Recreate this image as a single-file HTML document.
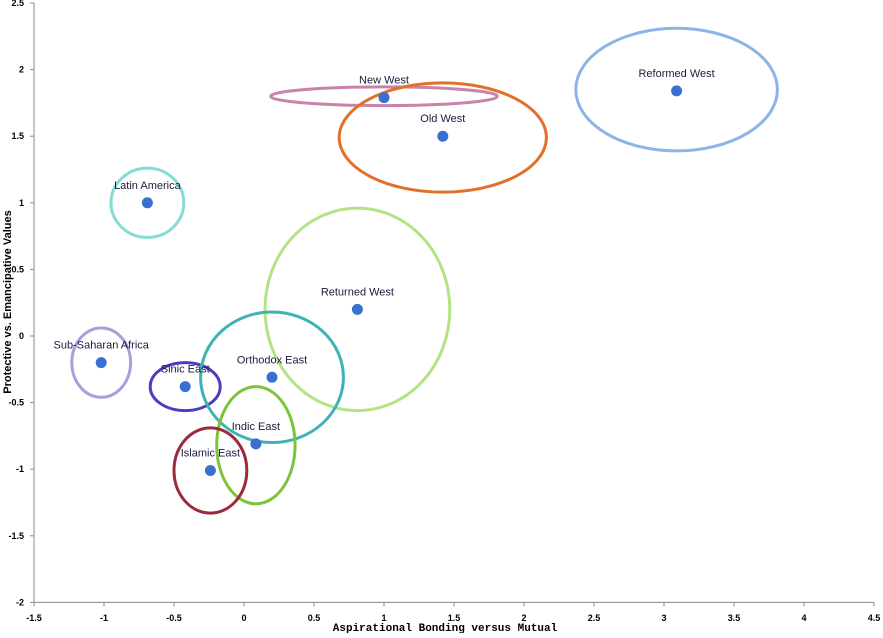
<!DOCTYPE html>
<html><head><meta charset="utf-8"><style>
body{margin:0;background:#fff;}
svg text{font-family:"Liberation Sans",sans-serif;}
</style></head><body>
<svg id="chart" width="883" height="633" xmlns="http://www.w3.org/2000/svg">
<g id="axes"></g>
<g id="ellipses"></g>
<g id="points"></g>
<text x="445" y="631" text-anchor="middle" font-size="11" font-weight="bold" style="font-family:'Liberation Mono',monospace">Aspirational Bonding versus Mutual</text>
<text transform="translate(11,302) rotate(-90)" text-anchor="middle" font-size="11" font-weight="bold">Protective vs. Emancipative Values</text>
</svg>
<script>
const names=["Reformed West","New West","Old West","Latin America","Returned West","Sub-Saharan Africa","Sinic East","Orthodox East","Indic East","Islamic East"];
const xs=[3.09,1.0,1.42,-0.69,0.81,-1.02,-0.42,0.2,0.085,-0.24];
const ys=[1.84,1.79,1.5,1.0,0.2,-0.2,-0.38,-0.31,-0.81,-1.01];
const ecx=[3.09,1.0,1.42,-0.69,0.81,-1.02,-0.42,0.2,0.085,-0.24];
const ecy=[1.85,1.8,1.49,1.0,0.2,-0.2,-0.38,-0.31,-0.82,-1.01];
const erx=[0.72,0.81,0.74,0.26,0.66,0.21,0.25,0.51,0.28,0.26];
const ery=[0.46,0.07,0.41,0.26,0.76,0.26,0.18,0.49,0.44,0.32];
const colors=["#8db4e6","#c983a8","#e2702a","#86dcd4","#b3e383","#ab9edb","#4a3ec0","#3eb3b3","#7cc43a","#9b2a3c"];
const xTicks=[-1.5,-1,-0.5,0,0.5,1,1.5,2,2.5,3,3.5,4,4.5];
const yTicks=[-2,-1.5,-1,-0.5,0,0.5,1,1.5,2,2.5];
const X=v=>244+v*140, Y=v=>336-v*133.2;
const NS="http://www.w3.org/2000/svg";
function mk(t,a,p){const e=document.createElementNS(NS,t);for(const k in a)e.setAttribute(k,a[k]);p.appendChild(e);return e;}
const ax=document.getElementById('axes');
let l=mk('line',{x1:X(-1.5),y1:Y(-2),x2:X(4.5),y2:Y(-2),stroke:'#888','stroke-width':1},ax);


l=mk('line',{x1:X(-1.5),y1:Y(-2),x2:X(-1.5),y2:Y(2.5),stroke:'#888','stroke-width':1},ax);


xTicks.forEach(v=>{
 mk('line',{x1:X(v),y1:Y(-2),x2:X(v),y2:Y(-2)+4,stroke:'#888'},ax);
 const t=mk('text',{x:X(v),y:621,'text-anchor':'middle','font-size':9,'font-weight':'bold'},ax);
 t.textContent=v;
 
 
});
yTicks.forEach(v=>{
 mk('line',{x1:X(-1.5)-4,y1:Y(v),x2:X(-1.5),y2:Y(v),stroke:'#888'},ax);
 const t=mk('text',{x:24,y:Y(v)+3,'text-anchor':'end','font-size':9,'font-weight':'bold'},ax);
 t.textContent=v;
 
 
});
const eg=document.getElementById('ellipses'),pg=document.getElementById('points');
names.forEach((n,i)=>{
 const e=mk('ellipse',{cx:X(ecx[i]),cy:Y(ecy[i]),rx:erx[i]*140,ry:ery[i]*133.2,fill:'none',stroke:colors[i],'stroke-width':3},eg);
 
 
 const c=mk('circle',{cx:X(xs[i]),cy:Y(ys[i]),r:5.5,fill:'#3a6fd2'},pg);
 
 
 const t=mk('text',{x:X(xs[i]),y:Y(ys[i])-14,'text-anchor':'middle','font-size':11,fill:'#1a1a40'},pg);
 t.textContent=n;
 
 
});
</script>
</body></html>
